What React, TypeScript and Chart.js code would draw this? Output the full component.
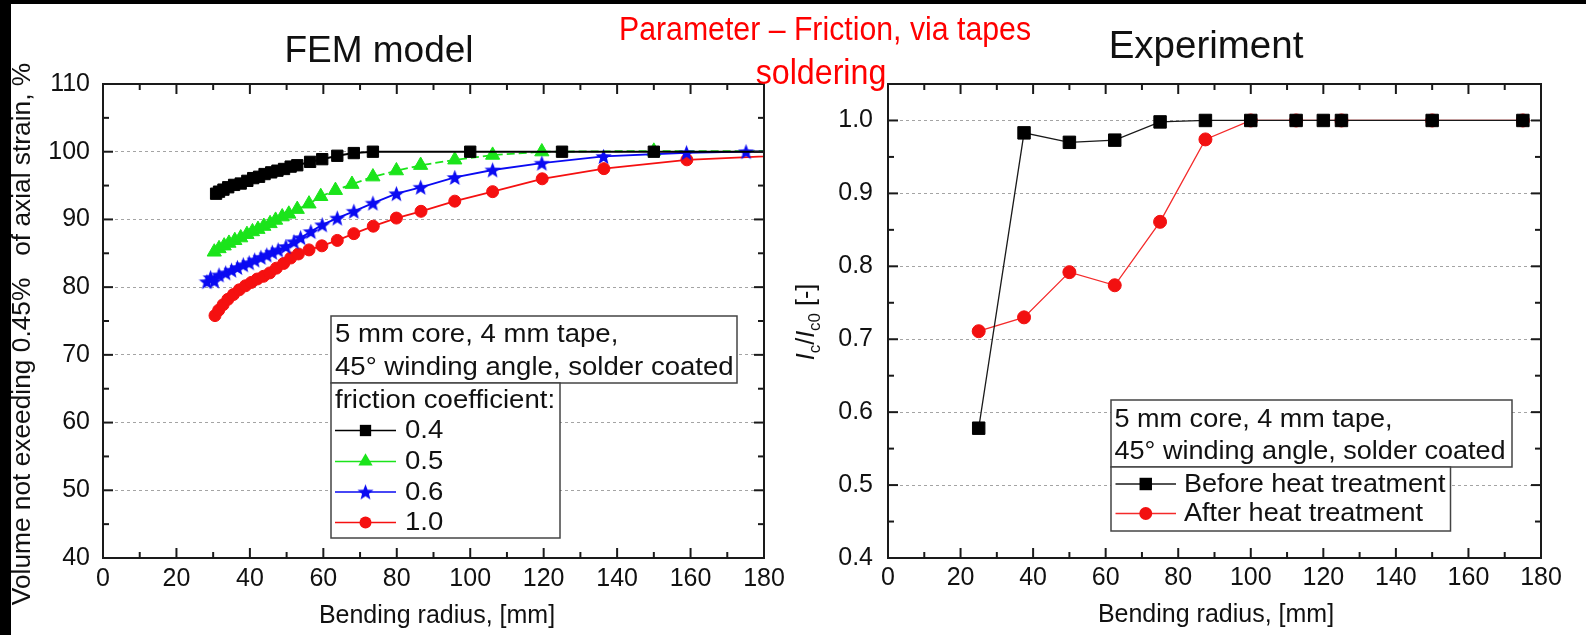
import React, { useEffect, useRef } from 'react';
import { Chart, registerables } from 'chart.js';

Chart.register(...registerables);

const SANS = '"Liberation Sans", Arial, Helvetica, sans-serif';

// ---------- FEM model: bending radius [mm] -> volume not exceeding 0.45 % axial strain [%] ----------
const femFrictionLabels = ['0.4', '0.5', '0.6', '1.0'];

const femRadius04 = [30.8, 31.6, 32.8, 34.1, 35.7, 37.5, 39.3, 40.9, 42.5, 44.0, 45.8, 47.5, 49.3, 51.1, 52.9, 56.4, 59.7, 63.8, 68.3, 73.5, 100, 125, 150, 200];
const femVolume04 = [93.8, 94.1, 94.4, 94.75, 95.1, 95.3, 95.7, 96.1, 96.3, 96.7, 96.95, 97.2, 97.45, 97.8, 98.0, 98.5, 98.9, 99.4, 99.8, 100, 100, 100, 100, 100];

const femRadius05 = [30.3, 31.6, 33.0, 34.3, 35.9, 37.5, 39.2, 40.7, 42.2, 43.8, 45.5, 47.0, 48.8, 50.6, 52.9, 56.1, 59.3, 63.3, 67.8, 73.5, 79.9, 86.5, 95.8, 106.1, 119.5, 150, 200];
const femVolume05 = [85.2, 85.7, 86.1, 86.5, 86.9, 87.3, 87.8, 88.2, 88.55, 89.0, 89.4, 89.9, 90.4, 90.8, 91.5, 92.3, 93.4, 94.3, 95.2, 96.3, 97.2, 98.0, 98.8, 99.5, 100.0, 100.1, 100.1];

const femRadius06 = [28.3, 29.3, 30.3, 31.6, 33.4, 35.0, 36.6, 38.2, 39.8, 41.3, 43.0, 44.6, 46.1, 47.7, 49.8, 52.0, 53.8, 56.6, 59.7, 63.8, 68.3, 73.5, 79.9, 86.5, 95.8, 106.1, 119.5, 136.3, 158.9, 175.1, 200];
const femVolume06 = [80.8, 81.4, 80.9, 81.8, 82.1, 82.5, 82.9, 83.3, 83.6, 84.0, 84.4, 84.75, 85.15, 85.5, 86.0, 86.7, 87.3, 88.2, 89.2, 90.2, 91.2, 92.4, 93.8, 94.75, 96.2, 97.3, 98.3, 99.3, 99.85, 100.0, 100.1];

const femRadius10 = [30.5, 31.5, 32.7, 34.0, 35.5, 37.1, 38.8, 40.4, 42.0, 43.7, 45.4, 47.2, 49.2, 51.1, 53.2, 56.1, 59.6, 63.8, 68.3, 73.6, 79.9, 86.6, 95.8, 106.1, 119.6, 136.4, 159.0, 200];
const femVolume10 = [75.8, 76.6, 77.4, 78.2, 78.9, 79.6, 80.2, 80.7, 81.2, 81.6, 82.1, 82.8, 83.5, 84.3, 84.9, 85.5, 86.1, 86.9, 87.9, 89.0, 90.2, 91.2, 92.7, 94.1, 96.0, 97.5, 98.8, 99.8];

// ---------- Experiment: bending radius [mm] -> Ic/Ic0 ----------
const heatLabels = ['Before heat treatment', 'After heat treatment'];
const expRadiusBefore = [25, 37.5, 50, 62.5, 75, 87.5, 100, 112.5, 120, 125, 150, 175];
const icBefore = [0.578, 0.983, 0.970, 0.973, 0.998, 1.0, 1.0, 1.0, 1.0, 1.0, 1.0, 1.0];
const expRadiusAfter = [25, 37.5, 50, 62.5, 75, 87.5, 100, 112.5, 125, 150, 175];
const icAfter = [0.711, 0.730, 0.792, 0.774, 0.861, 0.974, 1.0, 1.0, 1.0, 1.0, 1.0];

// ---------- axis ticks ----------
const radiusTicks = [0, 20, 40, 60, 80, 100, 120, 140, 160, 180];
const volumeTicks = [40, 50, 60, 70, 80, 90, 100, 110];
const icTicks = [0.4, 0.5, 0.6, 0.7, 0.8, 0.9, 1.0];

const setupLines = ['5 mm core, 4 mm tape,', '45\u00b0 winding angle, solder coated'];

const zip = (xs: number[], ys: number[]) => xs.map((x, i) => ({ x, y: ys[i] }));

function makeStar(size: number, color: string): HTMLCanvasElement {
  const c = document.createElement('canvas');
  c.width = size;
  c.height = size;
  const g = c.getContext('2d')!;
  const cx = size / 2;
  const cy = size / 2 + 0.7;
  const R = size / 2;
  const r = R * 0.42;
  g.beginPath();
  for (let i = 0; i < 10; i++) {
    const a = -Math.PI / 2 + (i * Math.PI) / 5;
    const rr = i % 2 ? r : R;
    g.lineTo(cx + rr * Math.cos(a), cy + rr * Math.sin(a));
  }
  g.closePath();
  g.fillStyle = color;
  g.fill();
  return c;
}

function drawMarker(ctx: CanvasRenderingContext2D, ds: any, x: number, y: number) {
  const style = ds.pointStyle;
  const r = ds.pointRadius;
  ctx.save();
  ctx.fillStyle = ds.pointBackgroundColor;
  if (style instanceof HTMLCanvasElement) {
    ctx.drawImage(style, x - style.width / 2, y - style.height / 2);
  } else if (style === 'rect') {
    const s = r / Math.SQRT2;
    ctx.fillRect(x - s, y - s, 2 * s, 2 * s);
  } else if (style === 'triangle') {
    ctx.beginPath();
    for (let i = 0; i < 3; i++) {
      const a = (i * 2 * Math.PI) / 3;
      ctx.lineTo(x + Math.sin(a) * r, y - Math.cos(a) * r);
    }
    ctx.closePath();
    ctx.fill();
  } else {
    ctx.beginPath();
    ctx.arc(x, y, r, 0, Math.PI * 2);
    ctx.fill();
  }
  ctx.restore();
}

// Frame around the plot area with inward major/minor ticks on all four sides
const frameTicks = {
  id: 'frameTicks',
  afterDraw(chart: any, _args: any, o: any) {
    const { ctx, chartArea: a } = chart;
    const xs = chart.scales.x;
    const ys = chart.scales.y;
    const mids = (arr: number[]) => arr.slice(1).map((v, i) => (v + arr[i]) / 2);
    const majorX = xs.ticks.map((t: any) => t.value);
    const majorY = ys.ticks.map((t: any) => t.value);
    ctx.save();
    ctx.strokeStyle = o.color;
    ctx.lineWidth = o.lineWidth;
    const seg = (x1: number, y1: number, x2: number, y2: number) => {
      ctx.beginPath();
      ctx.moveTo(x1, y1);
      ctx.lineTo(x2, y2);
      ctx.stroke();
    };
    const xSets: [number[], number][] = [[majorX, o.major], [mids(majorX), o.minor]];
    for (const [vals, len] of xSets) {
      for (const v of vals) {
        const p = xs.getPixelForValue(v);
        seg(p, a.bottom, p, a.bottom - len);
        seg(p, a.top, p, a.top + len);
      }
    }
    const ySets: [number[], number][] = [[majorY, o.major], [mids(majorY), o.minor]];
    for (const [vals, len] of ySets) {
      for (const v of vals) {
        const p = ys.getPixelForValue(v);
        seg(a.left, p, a.left + len, p);
        seg(a.right, p, a.right - len, p);
      }
    }
    ctx.strokeRect(a.left, a.top, a.right - a.left, a.bottom - a.top);
    ctx.restore();
  },
};

type Part = { text: string; italic?: boolean; sub?: boolean };

function drawParts(ctx: CanvasRenderingContext2D, parts: Part[], size: number) {
  const subSize = size * 0.68;
  const fontOf = (p: Part) => `${p.italic ? 'italic ' : ''}${p.sub ? subSize : size}px ${SANS}`;
  let total = 0;
  for (const p of parts) {
    ctx.font = fontOf(p);
    total += ctx.measureText(p.text).width;
  }
  let x = -total / 2;
  for (const p of parts) {
    ctx.font = fontOf(p);
    ctx.fillText(p.text, x, p.sub ? size * 0.22 : 0);
    x += ctx.measureText(p.text).width;
  }
}

// Axis captions: centred text with its own baseline position and horizontal stretch
const captions = {
  id: 'captions',
  afterDraw(chart: any, _args: any, o: any) {
    const { ctx } = chart;
    for (const c of o.items) {
      ctx.save();
      ctx.fillStyle = c.color || '#111';
      ctx.textAlign = 'left';
      ctx.textBaseline = 'alphabetic';
      ctx.translate(c.x, c.y);
      if (c.vertical) ctx.rotate(-Math.PI / 2);
      ctx.scale(c.stretch || 1, 1);
      drawParts(ctx, c.parts, c.size);
      ctx.restore();
    }
  },
};

// Boxed legend: a framed note followed by a framed list of series
const boxLegend = {
  id: 'boxLegend',
  afterDraw(chart: any, _args: any, o: any) {
    const { ctx } = chart;
    const font = `${o.size}px ${SANS}`;
    const text = (t: string, x: number, y: number, base: CanvasTextBaseline) => {
      ctx.save();
      ctx.font = font;
      ctx.fillStyle = '#111';
      ctx.textBaseline = base;
      ctx.translate(x, y);
      ctx.scale(o.stretch, 1);
      ctx.fillText(t, 0, 0);
      ctx.restore();
    };
    ctx.save();
    ctx.strokeStyle = '#444';
    ctx.lineWidth = 1.5;
    for (const b of o.boxes) {
      ctx.fillStyle = '#fff';
      ctx.fillRect(b.x, b.y, b.w, b.h);
      ctx.strokeRect(b.x, b.y, b.w, b.h);
    }
    ctx.restore();
    o.notes.forEach((n: any) => text(n.text, o.textX, n.y, 'alphabetic'));
    o.entries.forEach((e: any) => {
      const ds = chart.data.datasets[e.dataset];
      ctx.save();
      ctx.strokeStyle = ds.borderColor;
      ctx.lineWidth = Math.min(ds.borderWidth, 1.6);
      ctx.beginPath();
      ctx.moveTo(o.lineX0, e.y);
      ctx.lineTo(o.lineX1, e.y);
      ctx.stroke();
      ctx.restore();
      drawMarker(ctx, ds, (o.lineX0 + o.lineX1) / 2, e.y);
      text(ds.label, o.labelX, e.y + o.size * 0.02, 'middle');
    });
  },
};

const tickFont = { family: SANS, size: 25 };

function femConfig(star: HTMLCanvasElement): any {
  return {
    type: 'line',
    data: {
      datasets: [
        { label: femFrictionLabels[0], data: zip(femRadius04, femVolume04), borderColor: '#000', backgroundColor: '#000', pointBackgroundColor: '#000', pointBorderColor: '#000', borderWidth: 2, pointStyle: 'rect', pointRadius: 8, pointBorderWidth: 1, order: 0 },
        { label: femFrictionLabels[1], data: zip(femRadius05, femVolume05), borderColor: '#1be41b', backgroundColor: '#1be41b', pointBackgroundColor: '#1be41b', pointBorderColor: '#1be41b', borderWidth: 1.8, borderDash: [8, 4], pointStyle: 'triangle', pointRadius: 8.2, pointBorderWidth: 1, order: 2 },
        { label: femFrictionLabels[2], data: zip(femRadius06, femVolume06), borderColor: '#0a0af2', backgroundColor: '#0a0af2', pointBackgroundColor: '#0a0af2', pointBorderColor: '#0a0af2', borderWidth: 1.8, pointStyle: star, pointRadius: 8, pointBorderWidth: 0, order: 1 },
        { label: femFrictionLabels[3], data: zip(femRadius10, femVolume10), borderColor: '#f51010', backgroundColor: '#f51010', pointBackgroundColor: '#f51010', pointBorderColor: '#f51010', borderWidth: 1.8, pointStyle: 'circle', pointRadius: 6, pointBorderWidth: 1, order: 3 },
      ].map((d) => ({ ...d, clip: 0, tension: 0, fill: false })),
    },
    options: {
      responsive: false,
      animation: false,
      events: [],
      layout: { padding: { left: 0, right: 29, top: 84, bottom: 0 } },
      scales: {
        x: {
          type: 'linear', min: 0, max: 180,
          afterBuildTicks: (s: any) => { s.ticks = radiusTicks.map((value) => ({ value })); },
          afterFit: (s: any) => { s.height = 77; },
          ticks: { font: tickFont, color: '#111', padding: 6, maxRotation: 0, autoSkip: false, callback: (v: number) => String(v) },
          grid: { display: false, drawTicks: false },
          border: { display: false },
        },
        y: {
          type: 'linear', min: 40, max: 110,
          afterBuildTicks: (s: any) => { s.ticks = volumeTicks.map((value) => ({ value })); },
          afterFit: (s: any) => { s.width = 103; },
          ticks: { font: tickFont, color: '#111', padding: 13, callback: (v: number) => String(v) },
          grid: { color: '#a4a4a4', lineWidth: 1, drawTicks: false },
          border: { display: false, dash: [3, 3] },
        },
      },
      plugins: {
        legend: { display: false },
        tooltip: { enabled: false },
        frameTicks: { color: '#1a1a1a', lineWidth: 2, major: 10, minor: 6 },
        captions: {
          items: [
            { parts: [{ text: 'Bending radius, [mm]' }], x: 437, y: 623, size: 25 },
            { parts: [{ text: 'Volume not exeeding 0.45%   of axial strain, %' }], x: 30, y: 334, size: 26.3, vertical: true },
          ],
        },
        boxLegend: {
          size: 26, stretch: 1.06,
          boxes: [{ x: 331, y: 316, w: 406, h: 67 }, { x: 331, y: 383, w: 229, h: 155 }],
          textX: 335,
          notes: [{ text: setupLines[0], y: 342 }, { text: setupLines[1], y: 375 }, { text: 'friction coefficient:', y: 408 }],
          lineX0: 335, lineX1: 396, labelX: 405,
          entries: [{ dataset: 0, y: 430.5 }, { dataset: 1, y: 461.5 }, { dataset: 2, y: 492 }, { dataset: 3, y: 522.5 }],
        },
      },
    },
    plugins: [frameTicks, captions, boxLegend],
  };
}

function expConfig(): any {
  return {
    type: 'line',
    data: {
      datasets: [
        { label: heatLabels[0], data: zip(expRadiusBefore, icBefore), borderColor: '#1a1a1a', backgroundColor: '#000', pointBackgroundColor: '#000', pointBorderColor: '#000', borderWidth: 1.3, pointStyle: 'rect', pointRadius: 8.8, pointBorderWidth: 1, order: 0 },
        { label: heatLabels[1], data: zip(expRadiusAfter, icAfter), borderColor: '#f42a2a', backgroundColor: '#f21010', pointBackgroundColor: '#f21010', pointBorderColor: '#f21010', borderWidth: 1.3, pointStyle: 'circle', pointRadius: 6.5, pointBorderWidth: 1, order: 1 },
      ].map((d) => ({ ...d, clip: 0, tension: 0, fill: false })),
    },
    options: {
      responsive: false,
      animation: false,
      events: [],
      layout: { padding: { left: 0, right: 45, top: 84, bottom: 0 } },
      scales: {
        x: {
          type: 'linear', min: 0, max: 180,
          afterBuildTicks: (s: any) => { s.ticks = radiusTicks.map((value) => ({ value })); },
          afterFit: (s: any) => { s.height = 77; },
          ticks: { font: tickFont, color: '#111', padding: 5, maxRotation: 0, autoSkip: false, callback: (v: number) => String(v) },
          grid: { display: false, drawTicks: false },
          border: { display: false },
        },
        y: {
          type: 'linear', min: 0.4, max: 1.05,
          afterBuildTicks: (s: any) => { s.ticks = icTicks.map((value) => ({ value })); },
          afterFit: (s: any) => { s.width = 95; },
          ticks: { font: tickFont, color: '#111', padding: 15, callback: (v: number) => Number(v).toFixed(1) },
          grid: { color: '#a4a4a4', lineWidth: 1, drawTicks: false },
          border: { display: false, dash: [3, 3] },
        },
      },
      plugins: {
        legend: { display: false },
        tooltip: { enabled: false },
        frameTicks: { color: '#1a1a1a', lineWidth: 2, major: 10, minor: 6 },
        captions: {
          items: [
            { parts: [{ text: 'Bending radius, [mm]' }], x: 423, y: 622, size: 25 },
            {
              parts: [
                { text: 'I', italic: true }, { text: 'c', sub: true }, { text: '/' },
                { text: 'I', italic: true }, { text: 'c0', sub: true }, { text: ' [-]' },
              ],
              x: 21, y: 322, size: 25, vertical: true,
            },
          ],
        },
        boxLegend: {
          size: 26, stretch: 1.04,
          boxes: [{ x: 318, y: 400, w: 401, h: 67 }, { x: 318, y: 467, w: 339.5, h: 64 }],
          textX: 321.5,
          notes: [{ text: setupLines[0], y: 427 }, { text: setupLines[1], y: 459 }],
          lineX0: 322.5, lineX1: 383, labelX: 391,
          entries: [{ dataset: 0, y: 484 }, { dataset: 1, y: 513.5 }],
        },
      },
    },
    plugins: [frameTicks, captions, boxLegend],
  };
}

function ChartCanvas({ left, make }: { left: number; make: () => any }) {
  const ref = useRef<HTMLCanvasElement>(null);
  useEffect(() => {
    const chart = new Chart(ref.current!, make());
    return () => chart.destroy();
  }, []);
  return (
    <canvas
      ref={ref}
      width={793}
      height={635}
      style={{ position: 'absolute', left, top: 0, width: 793, height: 635 }}
    />
  );
}

const heading = (size: number): React.CSSProperties => ({
  position: 'absolute',
  fontFamily: SANS,
  fontSize: size,
  lineHeight: `${size}px`,
  whiteSpace: 'nowrap',
});

export default function App() {
  return (
    <div style={{ position: 'absolute', left: 0, top: 0, width: 1586, height: 635, background: '#fff', overflow: 'hidden' }}>
      <ChartCanvas left={0} make={() => femConfig(makeStar(17, '#0a0af2'))} />
      <ChartCanvas left={793} make={expConfig} />
      <div style={{ ...heading(37), left: 379, top: 30.7, transform: 'translateX(-50%)', color: '#111' }}>FEM model</div>
      <div style={{ ...heading(38.5), left: 1206, top: 25.5, transform: 'translateX(-50%)', color: '#111' }}>Experiment</div>
      <div style={{ ...heading(34), left: 825, top: 10.5, transform: 'translateX(-50%) scaleX(0.89)', color: '#ff0000' }}>
        Parameter – Friction, via tapes
      </div>
      <div style={{ ...heading(35), left: 821, top: 53.5, transform: 'translateX(-50%) scaleX(0.92)', color: '#ff0000' }}>soldering</div>
      <div style={{ position: 'absolute', left: 0, top: 0, width: 1586, height: 4, background: '#000' }} />
      <div style={{ position: 'absolute', left: 0, top: 0, width: 11, height: 635, background: '#000' }} />
    </div>
  );
}
